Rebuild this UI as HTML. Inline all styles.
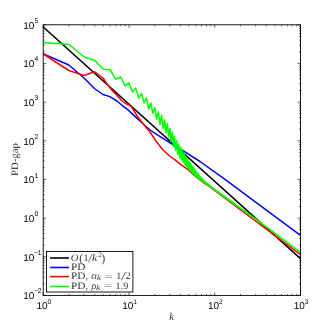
<!DOCTYPE html>
<html><head><meta charset="utf-8"><style>
html,body{margin:0;padding:0;background:#fff;}
svg{display:block}
svg{will-change:transform;transform:translateZ(0)}
text{text-rendering:geometricPrecision}
.tk{font-family:"Liberation Sans",sans-serif;font-size:10px;fill:#000}
.lg{font-family:"Liberation Serif",serif;font-size:10px;fill:#000;stroke:#fff;stroke-width:0.12px}
</style></head><body>
<svg width="332" height="332" viewBox="0 0 332 332">
<rect width="332" height="332" fill="#fff"/>
<defs><clipPath id="c"><rect x="43.2" y="24.8" width="257.3" height="270.59999999999997"/></clipPath></defs>
<g clip-path="url(#c)" fill="none" stroke-width="1.5" stroke-linejoin="round">
<path d="M43,26.76 L300.5,258.6" stroke="#000"/>
<path d="M43.00,53.75 L68.80,65.00 L84.00,78.00 L94.70,88.75 L103.00,94.50 L109.80,96.60 L117.00,101.00 L122.00,105.30 L128.00,109.90 L135.20,116.60 L142.50,123.30 L150.00,130.00 L157.80,135.20 L165.70,140.20 L172.90,144.50 L183.00,150.70 L200.00,161.50 L225.00,179.30 L260.00,205.40 L300.50,235.30" stroke="#00f"/>
<path d="M43.00,53.75 L68.80,70.50 L84.00,75.50 L94.70,71.75 L103.00,78.00 L108.00,85.30 L112.00,90.30 L117.00,95.50 L122.00,101.00 L126.00,103.70 L129.50,105.20 L132.00,107.50 L135.00,112.50 L138.00,117.30 L145.00,126.00 L147.50,129.30 L150.00,132.00 L156.00,141.00 L162.50,149.50 L169.00,155.50 L175.00,159.80 L182.00,165.30 L187.00,168.80 L190.00,171.50 L195.00,176.00 L200.00,180.00 L205.00,183.60 L210.00,187.00 L218.00,193.00 L300.50,254.60" stroke="#f00"/>
<path d="M43.20,42.50 L69.02,44.50 L84.12,57.00 L94.84,60.50 L103.15,69.25 L109.94,69.50 L115.68,79.20 L120.66,77.00 L125.04,85.90 L128.97,82.90 L132.52,92.10 L135.76,88.10 L138.74,98.00 L141.50,93.50 L144.07,102.90 L146.47,98.20 L148.73,109.04 L150.86,103.01 L152.87,113.32 L154.79,107.48 L156.60,119.20 L158.34,111.82 L159.99,124.29 L161.58,115.45 L163.10,128.52 L164.56,119.65 L165.96,132.66 L167.32,123.68 L168.63,136.55 L169.89,128.14 L171.11,141.70 L172.29,131.99 L173.44,146.47 L174.55,136.33 L175.63,150.42 L176.68,140.83 L177.70,154.26 L178.69,143.93 L179.66,157.70 L180.60,147.02 L181.52,160.01 L182.42,150.09 L183.30,162.44 L184.15,153.34 L184.99,164.68 L185.81,156.24 L186.61,166.55 L187.39,158.91 L188.16,168.45 L188.91,161.25 L189.65,170.28 L190.38,163.31 L191.09,171.85 L191.78,165.13 L192.47,173.18 L193.14,167.04 L193.80,174.40 L194.44,168.98 L195.08,175.56 L195.71,170.73 L196.32,176.56 L196.93,172.34 L197.52,177.52 L198.11,173.91 L198.69,178.45 L199.26,175.42 L199.82,179.35 L200.37,176.78 L200.91,180.14 L201.45,177.91 L201.98,180.88 L202.50,179.00 L203.01,181.61 L203.52,180.06 L204.02,182.31 L204.51,181.09 L205.00,183.00 L205.48,181.98 L205.95,183.65 L206.42,182.74 L206.88,184.28 L207.34,183.47 L207.79,184.90 L208.24,184.19 L208.68,185.50 L209.12,184.89 L209.55,186.09 L209.97,185.58 L210.39,186.69 L210.81,186.25 L211.22,187.30 L211.63,186.90 L212.03,187.90 L212.43,187.54 L212.82,188.49 L213.21,188.17 L213.60,189.06 L213.98,188.78 L214.36,189.63 L214.73,189.39 L215.10,190.18 L215.47,189.92 L215.83,190.72 L216.19,190.41 L216.55,191.25 L216.90,190.89 L217.25,191.77 L217.60,191.37 L217.94,192.28 L218.28,191.83 L218.62,192.78 L218.95,192.29 L219.29,193.27 L219.61,192.74 L219.94,193.75 L220.26,193.18 L220.58,194.20 L220.90,193.65 L221.21,194.65 L221.52,194.11 L221.83,195.09 L222.14,194.56 L222.44,195.52 L222.75,195.00 L223.04,195.94 L223.34,195.44 L223.64,196.36 L223.93,195.87 L224.22,196.77 L224.51,196.29 L224.79,197.18 L225.07,196.71 L225.36,197.58 L225.63,197.11 L225.91,197.97 L226.19,197.52 L226.46,198.36 L226.73,197.91 L227.00,198.74 L227.27,198.31 L227.53,199.12 L227.79,198.69 L228.06,199.49 L228.32,199.07 L228.57,199.86 L228.83,199.45 L229.08,200.22 L229.34,199.81 L229.59,200.58 L229.84,200.18 L230.08,200.93 L230.33,200.54 L230.57,201.28 L230.82,200.89 L231.06,201.62 L231.30,201.24 L231.53,201.96 L231.77,201.59 L232.01,202.30 L232.24,201.93 L232.47,202.63 L232.70,202.27 L232.93,202.95 L233.16,202.60 L233.39,203.28 L233.61,202.93 L233.83,203.60 L234.06,203.25 L234.28,203.91 L234.50,203.57 L234.72,204.22 L234.93,203.89 L235.15,204.53 L235.36,204.20 L235.58,204.83 L235.79,204.51 L236.00,205.14 L236.21,204.82 L236.42,205.43 L236.63,205.12 L236.83,205.73 L237.04,205.42 L237.24,206.02 L237.45,205.72 L237.65,206.31 L237.85,206.01 L238.05,206.59 L238.25,206.30 L238.44,206.87 L238.64,206.58 L238.84,207.15 L239.03,206.87 L239.22,207.43 L239.42,207.15 L239.61,207.70 L239.80,207.43 L239.99,207.97 L240.18,207.70 L240.36,208.24 L240.55,207.97 L240.74,208.51 L240.92,208.24 L241.11,208.77 L241.29,208.51 L241.47,209.03 L241.65,208.77 L241.83,209.29 L242.01,209.03 L242.19,209.54 L242.37,209.29 L242.55,209.80 L242.72,209.55 L242.90,210.05 L243.07,209.80 L243.25,210.30 L243.42,210.05 L243.59,210.54 L243.76,210.30 L243.93,210.78 L244.10,210.55 L244.27,211.03 L244.44,210.79 L244.61,211.27 L244.77,211.03 L244.94,211.50 L245.10,211.27 L245.27,211.74 L245.43,211.51 L245.60,211.97 L245.76,211.75 L245.92,212.20 L246.08,211.98 L246.24,212.43 L246.40,212.21 L246.56,212.66 L246.72,212.44 L246.87,212.88 L247.03,212.67 L247.19,213.11 L247.34,212.90 L247.50,213.33 L247.65,213.12 L247.81,213.55 L247.96,213.34 L248.11,213.77 L248.26,213.56 L248.41,213.98 L248.56,213.78 L248.71,214.20 L248.86,214.00 L249.01,214.41 L249.16,214.21 L249.31,214.62 L249.45,214.43 L249.60,214.83 L249.75,214.64 L249.89,215.04 L250.04,214.85 L250.18,215.24 L250.32,215.06 L250.47,215.45 L250.61,215.26 L250.75,215.65 L250.89,215.47 L251.03,215.85 L251.17,215.67 L251.31,216.05 L251.45,215.87 L251.59,216.25 L251.73,216.07 L251.87,216.45 L252.00,216.27 L252.14,216.65 L252.28,216.47 L252.41,216.84 L252.55,216.67 L252.68,217.03 L252.82,216.86 L252.95,217.22 L253.08,217.05 L253.22,217.41 L253.35,217.25 L253.48,217.60 L253.61,217.44 L253.74,217.79 L253.87,217.63 L254.00,217.98 L254.13,217.81 L254.26,218.16 L254.39,218.00 L254.52,218.35 L254.65,218.18 L254.78,218.53 L254.90,218.37 L255.03,218.71 L255.15,218.55 L255.28,218.89 L255.41,218.73 L255.53,219.07 L255.65,218.91 L255.78,219.25 L255.90,219.09 L256.03,219.42 L256.15,219.27 L256.27,219.60 L256.39,219.45 L256.51,219.77 L256.63,219.62 L256.76,219.94 L256.88,219.80 L257.00,220.12 L257.12,219.97 L257.23,220.29 L257.35,220.14 L257.47,220.46 L257.59,220.31 L257.71,220.63 L257.82,220.48 L257.94,220.79 L258.06,220.65 L258.17,220.96 L258.29,220.82 L258.41,221.12 L258.52,220.99 L258.64,221.29 L258.75,221.15 L258.86,221.45 L258.98,221.32 L259.09,221.62 L259.20,221.48 L259.32,221.78 L259.43,221.64 L259.54,221.94 L259.65,221.80 L259.76,222.10 L259.88,221.96 L259.99,222.26 L260.10,222.13 L260.21,222.42 L260.32,222.29 L260.43,222.58 L260.53,222.46 L260.64,222.74 L260.75,222.62 L260.86,222.90 L260.97,222.78 L261.08,223.06 L261.18,222.94 L261.29,223.22 L261.40,223.10 L261.50,223.38 L261.61,223.26 L261.71,223.54 L261.82,223.42 L261.92,223.70 L262.03,223.58 L262.13,223.85 L262.24,223.73 L262.34,224.01 L262.45,223.89 L262.55,224.16 L262.65,224.04 L262.75,224.31 L262.86,224.20 L262.96,224.47 L263.06,224.35 L263.16,224.62 L263.26,224.50 L263.37,224.77 L263.47,224.65 L263.57,224.92 L263.67,224.80 L263.77,225.07 L263.87,224.95 L263.97,225.21 L264.07,225.10 L264.16,225.36 L264.26,225.25 L264.36,225.51 L264.46,225.40 L264.56,225.65 L264.65,225.55 L264.75,225.80 L264.85,225.69 L264.95,225.94 L265.04,225.84 L265.14,226.09 L265.24,225.98 L265.33,226.23 L265.43,226.12 L265.52,226.37 L265.62,226.27 L265.71,226.51 L265.81,226.41 L265.90,226.65 L266.00,226.55 L266.09,226.79 L266.18,226.69 L266.28,226.93 L266.37,226.83 L266.46,227.07 L266.56,226.97 L266.65,227.21 L266.74,227.11 L266.83,227.35 L266.92,227.25 L267.02,227.48 L267.11,227.38 L267.20,227.62 L267.29,227.52 L267.38,227.75 L267.47,227.66 L267.56,227.89 L267.65,227.79 L267.74,228.02 L267.83,227.93 L267.92,228.15 L268.01,228.06 L268.10,228.29 L268.19,228.19 L268.28,228.42 L268.36,228.33 L268.45,228.55 L268.54,228.46 L268.63,228.68 L268.72,228.59 L268.80,228.81 L268.89,228.72 L268.98,228.94 L269.06,228.85 L269.15,229.07 L269.24,228.98 L269.32,229.20 L269.41,229.11 L269.49,229.33 L269.58,229.24 L269.67,229.45 L269.75,229.36 L269.84,229.58 L269.92,229.49 L270.00,229.71 L270.09,229.62 L270.17,229.83 L270.26,229.74 L270.34,229.96 L270.42,229.87 L270.51,230.08 L270.59,229.99 L270.67,230.20 L270.76,230.12 L270.84,230.33 L270.92,230.24 L271.00,230.45 L271.09,230.37 L271.17,230.57 L271.25,230.49 L271.33,230.69 L271.41,230.61 L271.49,230.81 L271.58,230.73 L271.66,230.94 L271.74,230.85 L271.82,231.06 L271.90,230.97 L271.98,231.17 L272.06,231.09 L272.14,231.29 L272.22,231.21 L272.30,231.41 L272.38,231.33 L272.46,231.53 L272.54,231.45 L272.61,231.65 L272.69,231.57 L272.77,231.76 L272.85,231.69 L272.93,231.88 L273.01,231.80 L273.08,232.00 L273.16,231.92 L273.24,232.11 L273.32,232.03 L273.39,232.23 L273.47,232.15 L273.55,232.34 L273.62,232.27 L273.70,232.46 L273.78,232.38 L273.85,232.57 L273.93,232.49 L274.01,232.68 L274.08,232.61 L274.16,232.80 L274.23,232.72 L274.31,232.91 L274.38,232.83 L274.46,233.02 L274.53,232.95 L274.61,233.13 L274.68,233.06 L274.76,233.24 L274.83,233.17 L274.90,233.35 L274.98,233.28 L275.05,233.46 L275.13,233.39 L275.20,233.57 L275.27,233.50 L275.35,233.68 L275.42,233.61 L275.49,233.79 L275.57,233.72 L275.64,233.90 L275.71,233.83 L275.78,234.01 L275.85,233.94 L275.93,234.11 L276.00,234.04 L276.07,234.22 L276.14,234.15 L276.21,234.33 L276.29,234.26 L276.36,234.43 L276.43,234.37 L276.50,234.54 L276.57,234.47 L276.64,234.65 L276.71,234.58 L276.78,234.75 L276.85,234.68 L276.92,234.86 L276.99,234.79 L277.06,234.96 L277.13,234.89 L277.20,235.06 L277.27,235.00 L277.34,235.17 L277.41,235.10 L277.48,235.27 L277.55,235.20 L277.62,235.37 L277.69,235.31 L277.75,235.48 L277.82,235.41 L277.89,235.58 L277.96,235.51 L278.03,235.68 L278.10,235.61 L278.16,235.78 L278.23,235.72 L278.30,235.88 L278.37,235.82 L278.43,235.98 L278.50,235.92 L278.57,236.08 L278.64,236.02 L278.70,236.18 L278.77,236.12 L278.84,236.28 L278.90,236.22 L278.97,236.38 L279.04,236.32 L279.10,236.48 L279.17,236.42 L279.23,236.58 L279.30,236.52 L279.37,236.67 L279.43,236.61 L279.50,236.77 L279.56,236.71 L279.63,236.87 L279.69,236.81 L279.76,236.97 L279.82,236.91 L279.89,237.06 L279.95,237.00 L280.02,237.16 L280.08,237.10 L280.15,237.26 L280.21,237.20 L280.27,237.35 L280.34,237.29 L280.40,237.45 L280.47,237.39 L280.53,237.54 L280.59,237.48 L280.66,237.64 L280.72,237.58 L280.78,237.73 L280.85,237.67 L280.91,237.83 L280.97,237.77 L281.04,237.92 L281.10,237.86 L281.16,238.01 L281.22,237.95 L281.29,238.11 L281.35,238.05 L281.41,238.20 L281.47,238.14 L281.53,238.29 L281.60,238.23 L281.66,238.38 L281.72,238.33 L281.78,238.47 L281.84,238.42 L281.90,238.57 L281.97,238.51 L282.03,238.66 L282.09,238.60 L282.15,238.75 L282.21,238.69 L282.27,238.84 L282.33,238.78 L282.39,238.93 L282.45,238.88 L282.51,239.02 L282.57,238.97 L282.63,239.11 L282.69,239.06 L282.75,239.20 L282.81,239.15 L282.87,239.29 L282.93,239.23 L282.99,239.38 L283.05,239.32 L283.11,239.47 L283.17,239.41 L283.23,239.55 L283.29,239.50 L283.35,239.64 L283.41,239.59 L283.47,239.73 L283.53,239.68 L283.58,239.82 L283.64,239.77 L283.70,239.91 L283.76,239.85 L283.82,239.99 L283.88,239.94 L283.93,240.08 L283.99,240.03 L284.05,240.17 L284.11,240.11 L284.17,240.25 L284.22,240.20 L284.28,240.34 L284.34,240.29 L284.40,240.42 L284.45,240.37 L284.51,240.51 L284.57,240.46 L284.63,240.59 L284.68,240.54 L284.74,240.68 L284.80,240.63 L284.85,240.76 L284.91,240.71 L284.97,240.85 L285.02,240.80 L285.08,240.93 L285.14,240.88 L285.19,241.02 L285.25,240.97 L285.30,241.10 L285.36,241.05 L285.42,241.18 L285.47,241.13 L285.53,241.27 L285.58,241.22 L285.64,241.35 L285.69,241.30 L285.75,241.43 L285.80,241.38 L285.86,241.51 L285.92,241.47 L285.97,241.60 L286.03,241.55 L286.08,241.68 L286.13,241.63 L286.19,241.76 L286.24,241.71 L286.30,241.84 L286.35,241.79 L286.41,241.92 L286.46,241.87 L286.52,242.00 L286.57,241.96 L286.62,242.08 L286.68,242.04 L286.73,242.16 L286.79,242.12 L286.84,242.24 L286.89,242.20 L286.95,242.32 L287.00,242.28 L287.05,242.40 L287.11,242.36 L287.16,242.48 L287.21,242.44 L287.27,242.56 L287.32,242.52 L287.37,242.64 L287.43,242.60 L287.48,242.72 L287.53,242.68 L287.59,242.80 L287.64,242.75 L287.69,242.88 L287.74,242.83 L287.80,242.96 L287.85,242.91 L287.90,243.03 L287.95,242.99 L288.00,243.11 L288.06,243.07 L288.11,243.19 L288.16,243.15 L288.21,243.27 L288.26,243.22 L288.32,243.34 L288.37,243.30 L288.42,243.42 L288.47,243.38 L288.52,243.50 L288.57,243.45 L288.62,243.57 L288.68,243.53 L288.73,243.65 L288.78,243.61 L288.83,243.73 L288.88,243.68 L288.93,243.80 L288.98,243.76 L289.03,243.88 L289.08,243.83 L289.13,243.95 L289.18,243.91 L289.23,244.03 L289.28,243.99 L289.33,244.10 L289.38,244.06 L289.44,244.18 L289.49,244.14 L289.54,244.25 L289.59,244.21 L289.64,244.33 L289.68,244.29 L289.73,244.40 L289.78,244.36 L289.83,244.48 L289.88,244.43 L289.93,244.55 L289.98,244.51 L290.03,244.62 L290.08,244.58 L290.13,244.70 L290.18,244.66 L290.23,244.77 L290.28,244.73 L290.33,244.84 L290.38,244.80 L290.42,244.92 L290.47,244.88 L290.52,244.99 L290.57,244.95 L290.62,245.06 L290.67,245.02 L290.72,245.13 L290.76,245.09 L290.81,245.20 L290.86,245.17 L290.91,245.28 L290.96,245.24 L291.01,245.35 L291.05,245.31 L291.10,245.42 L291.15,245.38 L291.20,245.49 L291.25,245.45 L291.29,245.56 L291.34,245.52 L291.39,245.63 L291.44,245.60 L291.48,245.70 L291.53,245.67 L291.58,245.78 L291.63,245.74 L291.67,245.85 L291.72,245.81 L291.77,245.92 L291.81,245.88 L291.86,245.99 L291.91,245.95 L291.95,246.06 L292.00,246.02 L292.05,246.13 L292.10,246.09 L292.14,246.20 L292.19,246.16 L292.23,246.26 L292.28,246.23 L292.33,246.33 L292.37,246.30 L292.42,246.40 L292.47,246.37 L292.51,246.47 L292.56,246.44 L292.61,246.54 L292.65,246.50 L292.70,246.61 L292.74,246.57 L292.79,246.68 L292.83,246.64 L292.88,246.75 L292.93,246.71 L292.97,246.81 L293.02,246.78 L293.06,246.88 L293.11,246.85 L293.15,246.95 L293.20,246.91 L293.24,247.02 L293.29,246.98 L293.33,247.08 L293.38,247.05 L293.42,247.15 L293.47,247.12 L293.51,247.22 L293.56,247.18 L293.60,247.29 L293.65,247.25 L293.69,247.35 L293.74,247.32 L293.78,247.42 L293.83,247.38 L293.87,247.49 L293.92,247.45 L293.96,247.55 L294.01,247.52 L294.05,247.62 L294.09,247.58 L294.14,247.68 L294.18,247.65 L294.23,247.75 L294.27,247.72 L294.31,247.82 L294.36,247.78 L294.40,247.88 L294.45,247.85 L294.49,247.95 L294.53,247.91 L294.58,248.01 L294.62,247.98 L294.66,248.08 L294.71,248.04 L294.75,248.14 L294.80,248.11 L294.84,248.21 L294.88,248.17 L294.93,248.27 L294.97,248.24 L295.01,248.34 L295.05,248.30 L295.10,248.40 L295.14,248.37 L295.18,248.46 L295.23,248.43 L295.27,248.53 L295.31,248.49 L295.36,248.59 L295.40,248.56 L295.44,248.65 L295.48,248.62 L295.53,248.72 L295.57,248.69 L295.61,248.78 L295.65,248.75 L295.70,248.85 L295.74,248.81 L295.78,248.91 L295.82,248.88 L295.87,248.97 L295.91,248.94 L295.95,249.03 L295.99,249.00 L296.03,249.10 L296.08,249.06 L296.12,249.16 L296.16,249.13 L296.20,249.22 L296.24,249.19 L296.28,249.28 L296.33,249.25 L296.37,249.35 L296.41,249.31 L296.45,249.41 L296.49,249.38 L296.53,249.47 L296.58,249.44 L296.62,249.53 L296.66,249.50 L296.70,249.59 L296.74,249.56 L296.78,249.65 L296.82,249.62 L296.86,249.72 L296.91,249.69 L296.95,249.78 L296.99,249.75 L297.03,249.84 L297.07,249.81 L297.11,249.90 L297.15,249.87 L297.19,249.96 L297.23,249.93 L297.27,250.02 L297.31,249.99 L297.35,250.08 L297.39,250.05 L297.43,250.14 L297.48,250.11 L297.52,250.20 L297.56,250.17 L297.60,250.26 L297.64,250.23 L297.68,250.32 L297.72,250.29 L297.76,250.38 L297.80,250.35 L297.84,250.44 L297.88,250.41 L297.92,250.50 L297.96,250.47 L298.00,250.56 L298.04,250.53 L298.08,250.62 L298.12,250.59 L298.16,250.68 L298.20,250.65 L298.23,250.74 L298.27,250.71 L298.31,250.80 L298.35,250.77 L298.39,250.86 L298.43,250.83 L298.47,250.91 L298.51,250.89 L298.55,250.97 L298.59,250.94 L298.63,251.03 L298.67,251.00 L298.71,251.09 L298.75,251.06 L298.78,251.15 L298.82,251.12 L298.86,251.21 L298.90,251.18 L298.94,251.26 L298.98,251.24 L299.02,251.32 L299.06,251.29 L299.10,251.38 L299.13,251.35 L299.17,251.44 L299.21,251.41 L299.25,251.50 L299.29,251.47 L299.33,251.55 L299.37,251.52 L299.40,251.61 L299.44,251.58 L299.48,251.67 L299.52,251.64 L299.56,251.72 L299.60,251.70 L299.63,251.78 L299.67,251.75 L299.71,251.84 L299.75,251.81 L299.79,251.89 L299.82,251.87 L299.86,251.95 L299.90,251.92 L299.94,252.01 L299.97,251.98 L300.01,252.06 L300.05,252.04 L300.09,252.12 L300.13,252.09 L300.16,252.18 L300.20,252.15 L300.24,252.23 L300.28,252.21 L300.31,252.29 L300.35,252.26 L300.39,252.34 L300.43,252.32 L300.46,252.40 L300.50,252.37" stroke="#0f0"/>
</g>
<rect x="43.2" y="24.8" width="257.3" height="270.59999999999997" fill="none" stroke="#000" stroke-width="0.9"/>
<path d="M43.20,295.4 v-3.0 M43.20,24.8 v3.0 M69.02,295.4 v-1.5 M69.02,24.8 v1.5 M84.12,295.4 v-1.5 M84.12,24.8 v1.5 M94.84,295.4 v-1.5 M94.84,24.8 v1.5 M103.15,295.4 v-1.5 M103.15,24.8 v1.5 M109.94,295.4 v-1.5 M109.94,24.8 v1.5 M115.68,295.4 v-1.5 M115.68,24.8 v1.5 M120.66,295.4 v-1.5 M120.66,24.8 v1.5 M125.04,295.4 v-1.5 M125.04,24.8 v1.5 M128.97,295.4 v-3.0 M128.97,24.8 v3.0 M154.79,295.4 v-1.5 M154.79,24.8 v1.5 M169.89,295.4 v-1.5 M169.89,24.8 v1.5 M180.60,295.4 v-1.5 M180.60,24.8 v1.5 M188.91,295.4 v-1.5 M188.91,24.8 v1.5 M195.71,295.4 v-1.5 M195.71,24.8 v1.5 M201.45,295.4 v-1.5 M201.45,24.8 v1.5 M206.42,295.4 v-1.5 M206.42,24.8 v1.5 M210.81,295.4 v-1.5 M210.81,24.8 v1.5 M214.73,295.4 v-3.0 M214.73,24.8 v3.0 M240.55,295.4 v-1.5 M240.55,24.8 v1.5 M255.65,295.4 v-1.5 M255.65,24.8 v1.5 M266.37,295.4 v-1.5 M266.37,24.8 v1.5 M274.68,295.4 v-1.5 M274.68,24.8 v1.5 M281.47,295.4 v-1.5 M281.47,24.8 v1.5 M287.21,295.4 v-1.5 M287.21,24.8 v1.5 M292.19,295.4 v-1.5 M292.19,24.8 v1.5 M296.58,295.4 v-1.5 M296.58,24.8 v1.5 M300.50,295.4 v-3.0 M300.50,24.8 v3.0 M43.2,295.40 h3.0 M300.5,295.40 h-3.0 M43.2,283.76 h1.5 M300.5,283.76 h-1.5 M43.2,276.96 h1.5 M300.5,276.96 h-1.5 M43.2,272.13 h1.5 M300.5,272.13 h-1.5 M43.2,268.38 h1.5 M300.5,268.38 h-1.5 M43.2,265.32 h1.5 M300.5,265.32 h-1.5 M43.2,262.73 h1.5 M300.5,262.73 h-1.5 M43.2,260.49 h1.5 M300.5,260.49 h-1.5 M43.2,258.51 h1.5 M300.5,258.51 h-1.5 M43.2,256.74 h3.0 M300.5,256.74 h-3.0 M43.2,245.11 h1.5 M300.5,245.11 h-1.5 M43.2,238.30 h1.5 M300.5,238.30 h-1.5 M43.2,233.47 h1.5 M300.5,233.47 h-1.5 M43.2,229.72 h1.5 M300.5,229.72 h-1.5 M43.2,226.66 h1.5 M300.5,226.66 h-1.5 M43.2,224.07 h1.5 M300.5,224.07 h-1.5 M43.2,221.83 h1.5 M300.5,221.83 h-1.5 M43.2,219.85 h1.5 M300.5,219.85 h-1.5 M43.2,218.09 h3.0 M300.5,218.09 h-3.0 M43.2,206.45 h1.5 M300.5,206.45 h-1.5 M43.2,199.64 h1.5 M300.5,199.64 h-1.5 M43.2,194.81 h1.5 M300.5,194.81 h-1.5 M43.2,191.07 h1.5 M300.5,191.07 h-1.5 M43.2,188.00 h1.5 M300.5,188.00 h-1.5 M43.2,185.42 h1.5 M300.5,185.42 h-1.5 M43.2,183.17 h1.5 M300.5,183.17 h-1.5 M43.2,181.20 h1.5 M300.5,181.20 h-1.5 M43.2,179.43 h3.0 M300.5,179.43 h-3.0 M43.2,167.79 h1.5 M300.5,167.79 h-1.5 M43.2,160.98 h1.5 M300.5,160.98 h-1.5 M43.2,156.15 h1.5 M300.5,156.15 h-1.5 M43.2,152.41 h1.5 M300.5,152.41 h-1.5 M43.2,149.35 h1.5 M300.5,149.35 h-1.5 M43.2,146.76 h1.5 M300.5,146.76 h-1.5 M43.2,144.52 h1.5 M300.5,144.52 h-1.5 M43.2,142.54 h1.5 M300.5,142.54 h-1.5 M43.2,140.77 h3.0 M300.5,140.77 h-3.0 M43.2,129.13 h1.5 M300.5,129.13 h-1.5 M43.2,122.33 h1.5 M300.5,122.33 h-1.5 M43.2,117.50 h1.5 M300.5,117.50 h-1.5 M43.2,113.75 h1.5 M300.5,113.75 h-1.5 M43.2,110.69 h1.5 M300.5,110.69 h-1.5 M43.2,108.10 h1.5 M300.5,108.10 h-1.5 M43.2,105.86 h1.5 M300.5,105.86 h-1.5 M43.2,103.88 h1.5 M300.5,103.88 h-1.5 M43.2,102.11 h3.0 M300.5,102.11 h-3.0 M43.2,90.48 h1.5 M300.5,90.48 h-1.5 M43.2,83.67 h1.5 M300.5,83.67 h-1.5 M43.2,78.84 h1.5 M300.5,78.84 h-1.5 M43.2,75.09 h1.5 M300.5,75.09 h-1.5 M43.2,72.03 h1.5 M300.5,72.03 h-1.5 M43.2,69.45 h1.5 M300.5,69.45 h-1.5 M43.2,67.20 h1.5 M300.5,67.20 h-1.5 M43.2,65.23 h1.5 M300.5,65.23 h-1.5 M43.2,63.46 h3.0 M300.5,63.46 h-3.0 M43.2,51.82 h1.5 M300.5,51.82 h-1.5 M43.2,45.01 h1.5 M300.5,45.01 h-1.5 M43.2,40.18 h1.5 M300.5,40.18 h-1.5 M43.2,36.44 h1.5 M300.5,36.44 h-1.5 M43.2,33.38 h1.5 M300.5,33.38 h-1.5 M43.2,30.79 h1.5 M300.5,30.79 h-1.5 M43.2,28.55 h1.5 M300.5,28.55 h-1.5 M43.2,26.57 h1.5 M300.5,26.57 h-1.5 M43.2,24.80 h3.0 M300.5,24.80 h-3.0" stroke="#000" stroke-width="0.6" fill="none"/>
<text x="36.40" y="309.4" class="tk">10<tspan dx="0" dy="-5.2" font-size="6.7">0</tspan></text><text x="122.17" y="309.4" class="tk">10<tspan dx="0" dy="-5.2" font-size="6.7">1</tspan></text><text x="207.93" y="309.4" class="tk">10<tspan dx="0" dy="-5.2" font-size="6.7">2</tspan></text><text x="293.70" y="309.4" class="tk">10<tspan dx="0" dy="-5.2" font-size="6.7">3</tspan></text><text x="23.3" y="299.2" class="tk">10<tspan dx="-0.2" dy="-5.8" font-size="6.8" letter-spacing="-0.55">−2</tspan></text><text x="23.3" y="260.9" class="tk">10<tspan dx="-0.2" dy="-5.8" font-size="6.8" letter-spacing="-0.55">−1</tspan></text><text x="23.3" y="222.2" class="tk">10<tspan dx="0.1" dy="-5.8" font-size="6.8">0</tspan></text><text x="23.3" y="183.4" class="tk">10<tspan dx="0.1" dy="-5.8" font-size="6.8">1</tspan></text><text x="23.3" y="144.8" class="tk">10<tspan dx="0.1" dy="-5.8" font-size="6.8">2</tspan></text><text x="23.3" y="106.0" class="tk">10<tspan dx="0.1" dy="-5.8" font-size="6.8">3</tspan></text><text x="23.3" y="67.1" class="tk">10<tspan dx="0.1" dy="-5.8" font-size="6.8">4</tspan></text><text x="23.3" y="28.7" class="tk">10<tspan dx="0.1" dy="-5.8" font-size="6.8">5</tspan></text>
<text transform="translate(18.4,159.6) rotate(-90)" text-anchor="middle" textLength="33" lengthAdjust="spacingAndGlyphs" class="lg">PD-gap</text>
<text x="171.7" y="319.5" text-anchor="middle" class="lg" font-style="italic" style="font-size:10.5px">k</text>
<rect x="46.5" y="251.5" width="86.4" height="40.5" fill="#fff" stroke="#000" stroke-width="0.9"/>
<g stroke-width="1.6">
<path d="M50.1,258 H69.0" stroke="#000"/>
<path d="M50.1,267.5 H69.0" stroke="#00f"/>
<path d="M50.1,276.6 H69.0" stroke="#f00"/>
<path d="M50.1,286.5 H69.0" stroke="#0f0"/>
</g>
<g transform="translate(-0.4,0)"><text x="71.2" y="261.2" textLength="7.7" lengthAdjust="spacingAndGlyphs" class="lg" font-style="italic">O</text><text x="79.6" y="261.59999999999997" textLength="3.7" lengthAdjust="spacingAndGlyphs" class="lg" style="font-size:11.5px">(</text><text x="84.0" y="261.2" textLength="5" lengthAdjust="spacingAndGlyphs" class="lg">1</text><text x="88.4" y="262.09999999999997" textLength="4.6" lengthAdjust="spacingAndGlyphs" class="lg" style="font-size:12px">/</text><text x="92.5" y="261.2" textLength="5.3" lengthAdjust="spacingAndGlyphs" class="lg" font-style="italic">k</text><text x="98.7" y="257.2" textLength="3.6" lengthAdjust="spacingAndGlyphs" class="lg" style="font-size:7px">2</text><text x="101.9" y="261.59999999999997" textLength="3.7" lengthAdjust="spacingAndGlyphs" class="lg" style="font-size:11.5px">)</text><text x="71.5" y="270.0" textLength="14.4" lengthAdjust="spacingAndGlyphs" class="lg">PD</text><text x="71.5" y="279.1" textLength="14.4" lengthAdjust="spacingAndGlyphs" class="lg">PD</text><text x="86.0" y="279.1" textLength="2.5" lengthAdjust="spacingAndGlyphs" class="lg">,</text><text x="91.7" y="279.1" textLength="5.6" lengthAdjust="spacingAndGlyphs" class="lg" font-style="italic">α</text><text x="97.2" y="280.20000000000005" textLength="4.3" lengthAdjust="spacingAndGlyphs" class="lg" font-style="italic" style="font-size:7.5px">k</text><text x="105.0" y="279.5" textLength="8.2" lengthAdjust="spacingAndGlyphs" class="lg">=</text><text x="116.6" y="279.1" textLength="5" lengthAdjust="spacingAndGlyphs" class="lg">1</text><text x="121.5" y="280.0" textLength="5.0" lengthAdjust="spacingAndGlyphs" class="lg" style="font-size:12px">/</text><text x="126.2" y="279.1" textLength="5" lengthAdjust="spacingAndGlyphs" class="lg">2</text><text x="71.5" y="289.0" textLength="14.4" lengthAdjust="spacingAndGlyphs" class="lg">PD</text><text x="86.0" y="289.0" textLength="2.5" lengthAdjust="spacingAndGlyphs" class="lg">,</text><text x="91.9" y="289.0" textLength="4.6" lengthAdjust="spacingAndGlyphs" class="lg" font-style="italic">ρ</text><text x="96.3" y="290.1" textLength="4.3" lengthAdjust="spacingAndGlyphs" class="lg" font-style="italic" style="font-size:7.5px">k</text><text x="104.4" y="289.4" textLength="8.2" lengthAdjust="spacingAndGlyphs" class="lg">=</text><text x="115.9" y="289.0" textLength="5" lengthAdjust="spacingAndGlyphs" class="lg">1</text><text x="121.2" y="289.0" textLength="2.5" lengthAdjust="spacingAndGlyphs" class="lg">.</text><text x="123.7" y="289.0" textLength="5" lengthAdjust="spacingAndGlyphs" class="lg">9</text></g>
</svg>
</body></html>
